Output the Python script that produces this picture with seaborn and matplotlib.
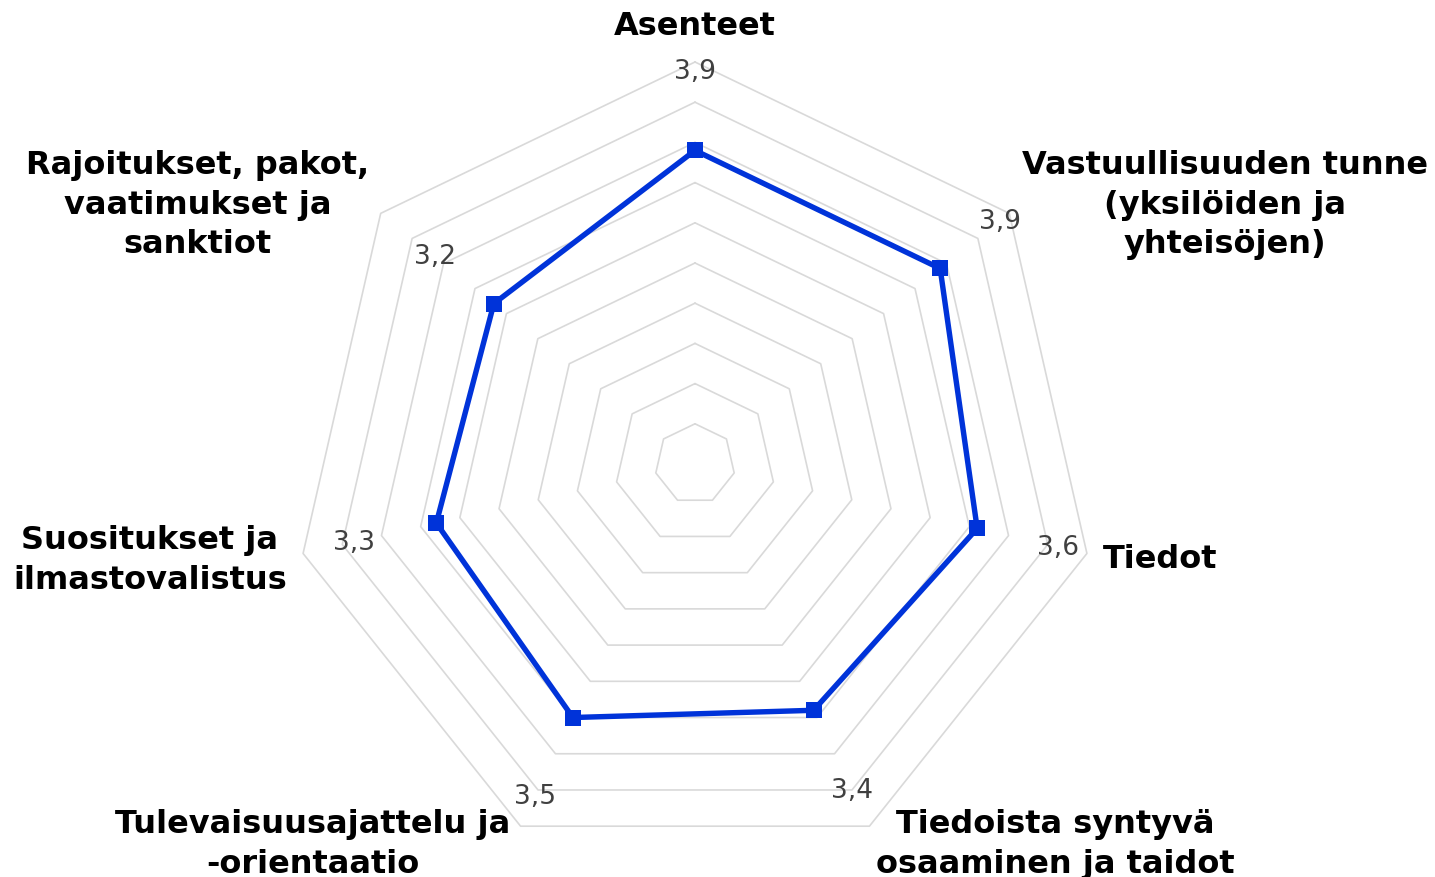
import matplotlib.pyplot as plt
import numpy as np
import seaborn as sns

categories = [
    "Asenteet",
    "Vastuullisuuden tunne\n(yksilöiden ja\nyhteisöjen)",
    "Tiedot",
    "Tiedoista syntyvä\nosaaminen ja taidot",
    "Tulevaisuusajattelu ja\n-orientaatio",
    "Suositukset ja\nilmastovalistus",
    "Rajoitukset, pakot,\nvaatimukset ja\nsanktiot",
]
values = [3.9, 3.9, 3.6, 3.4, 3.5, 3.3, 3.2]
value_labels = ["3,9", "3,9", "3,6", "3,4", "3,5", "3,3", "3,2"]
grid_levels = np.arange(0.5, 5.01, 0.5)

# layout (data units, centre at 0,0)
value_label_r = [4.89, 4.85, 4.63, 4.50, 4.58, 4.35, 4.14]
cat_label_xy = [(0, 5.45), (6.59, 3.23), (5.78, -1.18), (4.48, -4.72),
                (-4.75, -4.72), (-6.78, -1.19), (-6.19, 3.23)]

LINE_COLOR = "#0033D9"
GRID_COLOR = "#D9D9D9"

sns.set_theme(style="white")
plt.rcParams["font.family"] = ["DejaVu Sans"]

n = len(categories)
theta = 2 * np.pi * np.arange(n) / n

fig = plt.figure(figsize=(14.35, 8.78), dpi=100)
ax = fig.add_axes([0, 0, 1, 1])
ax.set_xlim(-695 / 80.4, (1435 - 695) / 80.4)
ax.set_ylim((465 - 878) / 80.4, 465 / 80.4)
ax.axis("off")

# polygon grid rings
loop = np.append(theta, theta[0])
for lvl in grid_levels:
    ax.plot(lvl * np.sin(loop), lvl * np.cos(loop), color=GRID_COLOR,
            lw=1.2, zorder=1)

# data series
r = np.append(values, values[0])
xs = r * np.sin(loop)
ys = r * np.cos(loop)
sns.lineplot(x=xs, y=ys, sort=False, estimator=None, ax=ax, color=LINE_COLOR,
             lw=3.9, marker="s", markersize=11, markeredgewidth=0, zorder=3)

for t, rl, lab in zip(theta, value_label_r, value_labels):
    ax.text(rl * np.sin(t), rl * np.cos(t), lab, ha="center", va="center",
            fontsize=19, color="#404040", zorder=4)

for (x, y), lab in zip(cat_label_xy, categories):
    ax.text(x, y, lab, ha="center", va="center", multialignment="center",
            fontsize=23, fontweight="bold", color="black", linespacing=1.36)

fig.savefig("out.png", dpi=100)
